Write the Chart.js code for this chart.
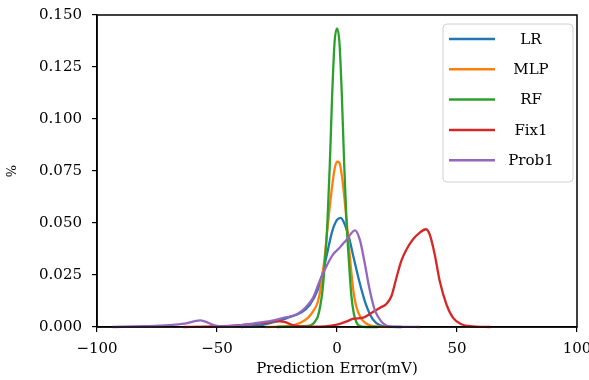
<!DOCTYPE html>
<html>
<head>
<meta charset="utf-8">
<script src="https://cdn.jsdelivr.net/npm/chart.js@4"></script>
<style>
  html, body { margin: 0; padding: 0; background: #fff; }
  #wrap { width: 589px; height: 380px; }
</style>
</head>
<body>
<div id="wrap"><canvas id="kde"></canvas></div>
<script>
// Series values (x in mV, y density)
const seriesLabels = ['LR', 'MLP', 'RF', 'Fix1', 'Prob1'];
const seriesColors = ['#1f77b4', '#ff7f0e', '#2ca02c', '#d62728', '#9467bd'];

const lrX = [-40, -32, -26, -20.5, -15, -11.4, -8, -6, -4, -2, 0, 1.5, 3, 5, 7, 9.5, 12, 15, 18, 22, 27];
const lrY = [0, 0.0008, 0.0024, 0.0045, 0.0069, 0.0105, 0.018, 0.026, 0.036, 0.046, 0.0515, 0.0525, 0.05, 0.043, 0.033, 0.021, 0.011, 0.0035, 0.0008, 0.0001, 0];

const mlpX = [-30, -20, -15, -12, -10, -8, -6.5, -5, -4, -3, -2, -1, 0, 1, 2, 3, 4, 5, 6, 7, 8, 10, 12, 15, 22];
const mlpY = [0, 0.0005, 0.0022, 0.0045, 0.0075, 0.012, 0.021, 0.035, 0.047, 0.058, 0.068, 0.076, 0.0795, 0.079, 0.073, 0.063, 0.051, 0.038, 0.026, 0.016, 0.01, 0.0042, 0.0018, 0.0004, 0];

const rfX = [-25, -12, -10, -9, -8, -7, -6, -5, -4, -3, -2, -1, 0, 1, 2, 3, 4, 5, 6, 7, 8, 9, 12, 17];
const rfY = [0, 0.0005, 0.0015, 0.003, 0.005, 0.01, 0.018, 0.032, 0.05, 0.078, 0.112, 0.137, 0.1436, 0.137, 0.112, 0.078, 0.05, 0.031, 0.015, 0.0065, 0.0025, 0.0008, 0, 0];

const fixX = [-64, -55, -45, -36, -30, -26, -22, -18.5, -15, -10, -5, 0, 4, 7, 11, 15, 18, 20.5, 22.7, 24.8, 26.8, 29, 31.7, 34.5, 37, 38.6, 40.7, 42.8, 45.6, 48.3, 51.8, 56.7, 64];
const fixY = [0, 0.0002, 0.0005, 0.0013, 0.002, 0.0028, 0.0025, 0.0009, 0.0003, 0.0002, 0.0003, 0.0011, 0.0027, 0.004, 0.0045, 0.0072, 0.0093, 0.011, 0.0149, 0.0238, 0.0318, 0.0374, 0.0422, 0.0454, 0.047, 0.0446, 0.035, 0.0221, 0.0109, 0.0045, 0.0013, 0.0003, 0];

const probX = [-93.5, -80, -70, -63.5, -57, -51, -48, -41, -34, -27.5, -22, -16.5, -13, -10, -7, -4.5, -1.7, 1, 4, 7.5, 9.5, 11.5, 13.6, 15.7, 18.4, 22, 28, 34.6];
const probY = [0, 0.0004, 0.0009, 0.0016, 0.0032, 0.0008, 0.0003, 0.0008, 0.0018, 0.0029, 0.0045, 0.0062, 0.0095, 0.014, 0.0228, 0.029, 0.0348, 0.038, 0.042, 0.0465, 0.042, 0.031, 0.018, 0.0083, 0.0027, 0.0003, 0.0001, 0];

const xTicks = [-100, -50, 0, 50, 100];
const yTicks = [0, 0.025, 0.05, 0.075, 0.1, 0.125, 0.15];

const seriesX = [lrX, mlpX, rfX, fixX, probX];
const seriesY = [lrY, mlpY, rfY, fixY, probY];

const tickFont = { family: 'DejaVu Serif', size: 15 };

// box round the plot area
const frame = {
    id: 'frame',
    afterDraw(chart) {
        const a = chart.chartArea;
        const ctx = chart.ctx;
        ctx.save();
        ctx.strokeStyle = '#000';
        ctx.lineWidth = 1.5;
        ctx.strokeRect(a.left, a.top, a.right - a.left, a.bottom - a.top);
        ctx.restore();
    }
};

// legend drawn inside the top right corner, like matplotlib
const boxLegend = {
    id: 'boxLegend',
    afterDraw(chart) {
        const a = chart.chartArea;
        const ctx = chart.ctx;
        const w = 130, h = 158;
        const x0 = a.right - 4 - w, y0 = a.top + 9;
        ctx.save();
        ctx.beginPath();
        ctx.roundRect(x0, y0, w, h, 4);
        ctx.fillStyle = 'rgba(255,255,255,0.85)';
        ctx.fill();
        ctx.strokeStyle = '#d0d0d0';
        ctx.lineWidth = 1;
        ctx.stroke();
        ctx.font = '15px "DejaVu Serif"';
        ctx.textAlign = 'center';
        ctx.textBaseline = 'middle';
        chart.data.datasets.forEach((ds, i) => {
            const y = y0 + 15 + i * 30.3;
            ctx.strokeStyle = ds.borderColor;
            ctx.lineWidth = 2.5;
            ctx.beginPath();
            ctx.moveTo(x0 + 6, y);
            ctx.lineTo(x0 + 52, y);
            ctx.stroke();
            ctx.fillStyle = '#000';
            ctx.fillText(ds.label, x0 + 88, y + 1);
        });
        ctx.restore();
    }
};

new Chart(document.getElementById('kde'), {
    type: 'line',
    data: {
        datasets: seriesLabels.map((label, i) => ({
            label: label,
            data: seriesX[i].map((x, j) => ({ x: x, y: seriesY[i][j] })),
            borderColor: seriesColors[i],
            backgroundColor: seriesColors[i],
            borderWidth: 2.3,
            pointRadius: 0,
            cubicInterpolationMode: 'monotone',
            fill: false,
            clip: 4,
            order: seriesLabels.length - i
        }))
    },
    options: {
        responsive: true,
        maintainAspectRatio: false,
        animation: false,
        layout: { padding: { left: 0, right: 12, top: 15, bottom: 0 } },
        plugins: {
            legend: { display: false },
            tooltip: { enabled: false }
        },
        scales: {
            x: {
                type: 'linear',
                min: -100,
                max: 100,
                afterFit: (s) => { s.height = 53; s.paddingLeft = 0; s.paddingRight = 0; },
                afterBuildTicks: (s) => { s.ticks = xTicks.map(v => ({ value: v })); },
                ticks: {
                    color: '#000',
                    font: tickFont,
                    padding: 8,
                    maxRotation: 0,
                    callback: (v) => String(v).replace('-', '\u2212')
                },
                grid: { drawOnChartArea: false, color: '#000', tickLength: 5, lineWidth: 1.2 },
                border: { color: '#000', width: 1.5 },
                title: {
                    display: true,
                    text: 'Prediction Error(mV)',
                    color: '#000',
                    font: { family: 'DejaVu Serif', size: 15 },
                    padding: { top: 0, bottom: 2 }
                }
            },
            y: {
                min: 0,
                max: 0.15,
                afterFit: (s) => { s.width = 97; s.paddingTop = 0; s.paddingBottom = 0; },
                afterBuildTicks: (s) => { s.ticks = yTicks.map(v => ({ value: v })); },
                ticks: {
                    color: '#000',
                    font: tickFont,
                    padding: 10,
                    callback: (v) => v.toFixed(3)
                },
                grid: { drawOnChartArea: false, color: '#000', tickLength: 5, lineWidth: 1.2 },
                border: { color: '#000', width: 1.5 },
                title: {
                    display: true,
                    text: '%',
                    color: '#000',
                    font: { family: 'DejaVu Serif', size: 13 },
                    padding: { top: 5, bottom: 0 }
                }
            }
        }
    },
    plugins: [frame, boxLegend]
});
</script>
</body>
</html>
